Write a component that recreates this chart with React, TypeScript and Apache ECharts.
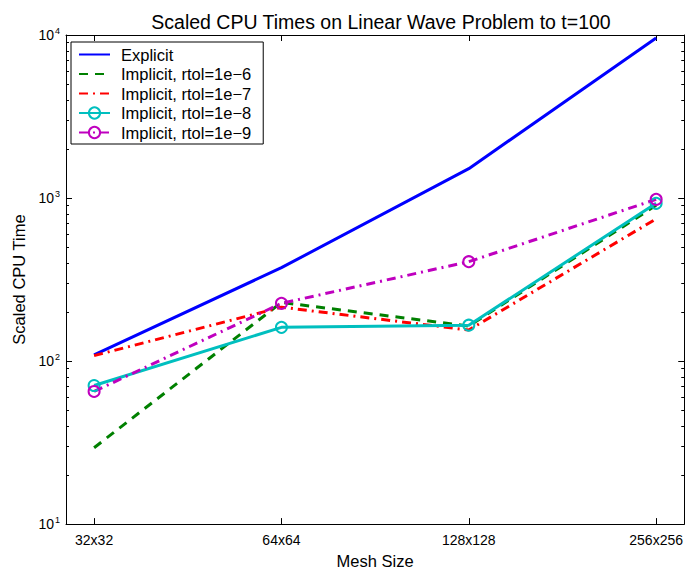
import React, { useEffect, useRef } from "react";
import * as echarts from "echarts";

const categories = ["32x32", "64x64", "128x128", "256x256"];
const explicitTimes = [109, 374, 1514, 9590];
const rtol6Times = [29.4, 229, 164, 902];
const rtol7Times = [108, 214, 155, 745];
const rtol8Times = [70.8, 161, 166, 928];
const rtol9Times = [65.1, 226, 407, 981];
const yMajorTicks = [10, 100, 1000, 10000];
const yMinorTicks = [20, 30, 40, 50, 60, 70, 80, 90, 200, 300, 400, 500, 600, 700, 800, 900, 2000, 3000, 4000, 5000, 6000, 7000, 8000, 9000];
const seriesNames = ["Explicit", "Implicit, rtol=1e\u22126", "Implicit, rtol=1e\u22127", "Implicit, rtol=1e\u22128", "Implicit, rtol=1e\u22129"];

const FONT = "'Liberation Sans', Helvetica, Arial, sans-serif";

const toPairs = (vals: number[]) => vals.map((v, i) => [i + 1, v]);

export default function App() {
  const ref = useRef<HTMLDivElement>(null);
  useEffect(() => {
    if (!ref.current) return;
    const chart = echarts.init(ref.current, null, { renderer: "svg" });
    const tickIdx = categories.map((_, i) => i + 1);
    const xBase = {
      type: "value",
      min: 0.85,
      max: 4.15,
      splitLine: { show: false },
      axisLine: { show: true, onZero: false, lineStyle: { color: "#000", width: 1 } },
    };
    const yBase = {
      type: "log",
      logBase: 10,
      min: 10,
      max: 10000,
      splitLine: { show: false },
      minorTick: { show: false },
      axisLine: { show: true, lineStyle: { color: "#000", width: 1 } },
    };
    const circleStyle = (c: string) => ({ color: "rgba(255,255,255,0)", borderColor: c, borderWidth: 2 });
    const noMarker = { opacity: 0 };
    chart.setOption({
      animation: false,
      backgroundColor: "#fff",
      textStyle: { fontFamily: FONT },
      title: {
        text: "Scaled CPU Times on Linear Wave Problem to t=100",
        left: 376,
        textAlign: "center",
        top: 7,
        textStyle: { fontFamily: FONT, fontSize: 19.5, fontWeight: "normal", color: "#000" },
      },
      grid: { left: 66, right: 1, top: 35, bottom: 45, containLabel: false },
      legend: {
        orient: "vertical",
        left: 71,
        top: 42,
        backgroundColor: "#fff",
        borderColor: "#000",
        borderWidth: 1,
        borderRadius: 0,
        padding: [4, 12, 3, 7],
        itemGap: 2.5,
        itemWidth: 31,
        itemHeight: 14,
        textStyle: { fontFamily: FONT, fontSize: 16.5, color: "#000", padding: [0, 0, 0, 6] },
        data: [
          { name: seriesNames[0], itemStyle: noMarker },
          { name: seriesNames[1], itemStyle: noMarker },
          { name: seriesNames[2], itemStyle: noMarker },
          { name: seriesNames[3] },
          { name: seriesNames[4] },
        ],
      },
      xAxis: [
        {
          ...xBase,
          position: "bottom",
          name: "Mesh Size",
          nameLocation: "middle",
          nameGap: 26,
          nameTextStyle: { fontFamily: FONT, fontSize: 16.5, color: "#000" },
          axisTick: { show: true, inside: true, length: 6, customValues: tickIdx, lineStyle: { color: "#000" } },
          axisLabel: {
            show: true,
            customValues: tickIdx,
            margin: 9,
            fontFamily: FONT,
            fontSize: 14,
            color: "#000",
            formatter: (v: number) => categories[Math.round(v) - 1] ?? "",
          },
        },
        {
          ...xBase,
          position: "top",
          axisTick: { show: true, inside: true, length: 6, customValues: tickIdx, lineStyle: { color: "#000" } },
          axisLabel: { show: false },
        },
      ],
      yAxis: [
        {
          ...yBase,
          position: "left",
          name: "Scaled CPU Time",
          nameLocation: "middle",
          nameGap: 38,
          nameTextStyle: { fontFamily: FONT, fontSize: 16.5, color: "#000" },
          axisTick: { show: true, inside: true, length: 6, customValues: yMajorTicks, lineStyle: { color: "#000" } },
          axisLabel: {
            show: true,
            customValues: yMajorTicks,
            margin: 6,
            color: "#000",
            formatter: (v: number) => `{b|10}{s|${Math.round(Math.log10(v))}}`,
            rich: {
              b: { fontFamily: FONT, fontSize: 14, color: "#000" },
              s: { fontFamily: FONT, fontSize: 9, color: "#000", verticalAlign: "top", padding: [0, 0, 8, 1] },
            },
          },
        },
        {
          ...yBase,
          position: "right",
          axisTick: { show: true, inside: true, length: 6, customValues: yMajorTicks, lineStyle: { color: "#000" } },
          axisLabel: { show: false },
        },
        {
          ...yBase,
          position: "left",
          axisLine: { show: false },
          axisTick: { show: true, inside: true, length: 3, customValues: yMinorTicks, lineStyle: { color: "#000" } },
          axisLabel: { show: false },
        },
        {
          ...yBase,
          position: "right",
          axisLine: { show: false },
          axisTick: { show: true, inside: true, length: 3, customValues: yMinorTicks, lineStyle: { color: "#000" } },
          axisLabel: { show: false },
        },
      ],
      series: [
        {
          name: seriesNames[0],
          type: "line",
          data: toPairs(explicitTimes),
          symbol: "none",
          color: "#0000ff",
          lineStyle: { color: "#0000ff", width: 3 },
        },
        {
          name: seriesNames[1],
          type: "line",
          data: toPairs(rtol6Times),
          symbol: "none",
          color: "#008000",
          lineStyle: { color: "#008000", width: 3, type: [9, 7] },
        },
        {
          name: seriesNames[2],
          type: "line",
          data: toPairs(rtol7Times),
          symbol: "none",
          color: "#ff0000",
          lineStyle: { color: "#ff0000", width: 3, type: [9, 5, 2, 5] },
        },
        {
          name: seriesNames[3],
          type: "line",
          data: toPairs(rtol8Times),
          symbol: "circle",
          symbolSize: 11,
          color: "#00bfbf",
          itemStyle: circleStyle("#00bfbf"),
          lineStyle: { color: "#00bfbf", width: 3 },
        },
        {
          name: seriesNames[4],
          type: "line",
          data: toPairs(rtol9Times),
          symbol: "circle",
          symbolSize: 11,
          color: "#bf00bf",
          itemStyle: circleStyle("#bf00bf"),
          lineStyle: { color: "#bf00bf", width: 3, type: [9, 5, 2, 5] },
        },
      ],
    });
    return () => chart.dispose();
  }, []);
  return <div ref={ref} style={{ width: 686, height: 574, position: "absolute", left: 0, top: 0 }} />;
}
